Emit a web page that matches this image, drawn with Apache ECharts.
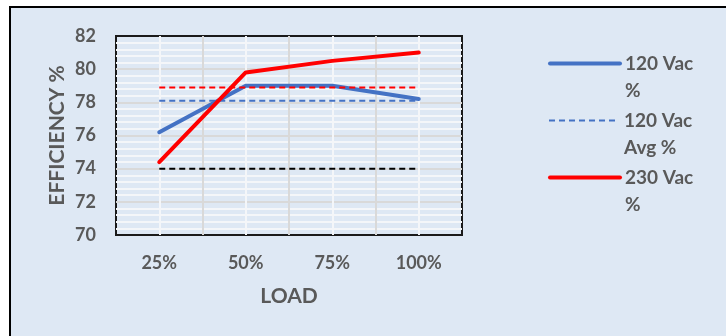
<!DOCTYPE html>
<html>
<head>
<meta charset="utf-8">
<script src="https://cdn.jsdelivr.net/npm/echarts@6/dist/echarts.min.js"></script>
<style>html,body{margin:0;padding:0;background:#fff;}#c{width:726px;height:336px;}</style>
</head>
<body>
<div id="c"></div>
<script>
const categories = ['25%', '50%', '75%', '100%'];
const eff120 = [76.2, 79.0, 79.0, 78.2];
const eff230 = [74.4, 79.8, 80.5, 81.0];
const avg120 = [78.1, 78.1, 78.1, 78.1];
const avg230 = [78.9, 78.9, 78.9, 78.9];
const limitLine = [74.0, 74.0, 74.0, 74.0];
const yMin = 70, yMax = 82, yStep = 2;
const legendNames = { '120 Vac %': ['120 Vac', '%'], '120 Vac Avg %': ['120 Vac', 'Avg %'], '230 Vac %': ['230 Vac', '%'] };

const FONT = 'Lato';
const TXT = '#595959';
const BG = '#dee8f4';

function legendAt(name, top, width) {
  return {
    data: [name], left: 548, top: top, padding: 0, orient: 'vertical',
    itemWidth: 70, itemHeight: 14, selectedMode: false,
    lineStyle: { width: width },
    itemStyle: { opacity: 0 },
    formatter: n => ' \n' + legendNames[n].join('\n'),
    textStyle: { fontFamily: FONT, fontSize: 19, fontWeight: 'bold', color: TXT, lineHeight: 27 }
  };
}

const chart = echarts.init(document.getElementById('c'), null, { renderer: 'canvas' });
chart.setOption({
  animation: false,
  backgroundColor: '#ffffff',
  graphic: [{ type: 'rect', z: -10, silent: true, shape: { x: 10, y: 7, width: 760, height: 380 }, style: { fill: BG, stroke: '#000', lineWidth: 2 } }],
  grid: { left: 116, top: 36, right: 264, bottom: 101, show: true, backgroundColor: BG, borderColor: '#1a1a1a', borderWidth: 2 },
  legend: [legendAt('120 Vac %', 23, 4), legendAt('120 Vac Avg %', 80, 2), legendAt('230 Vac %', 137, 4)],
  xAxis: {
    type: 'category', data: categories, boundaryGap: true, z: 1,
    axisLine: { show: false }, axisTick: { show: false },
    axisLabel: { fontFamily: FONT, fontSize: 18, fontWeight: 'bold', color: TXT, margin: 19 },
    splitLine: { show: true, showMinLine: false, showMaxLine: false, lineStyle: { color: '#d9d9d9', width: 2 } },
    name: 'LOAD', nameLocation: 'middle', nameGap: 51,
    nameTextStyle: { fontFamily: FONT, fontSize: 21, fontWeight: 'bold', color: TXT }
  },
  yAxis: {
    type: 'value', min: yMin, max: yMax, interval: yStep, z: 0,
    axisLine: { show: false }, axisTick: { show: false },
    axisLabel: { fontFamily: FONT, fontSize: 18, fontWeight: 'bold', color: TXT, margin: 20 },
    splitLine: { show: true, showMinLine: false, showMaxLine: false, lineStyle: { color: '#d9d9d9', width: 2 } },
    minorTick: { show: false, splitNumber: 5 },
    minorSplitLine: { show: true, lineStyle: { color: '#f4f6f9', width: 2 } },
    name: 'EFFICIENCY %', nameLocation: 'middle', nameGap: 48,
    nameTextStyle: { fontFamily: FONT, fontSize: 21, fontWeight: 'bold', color: TXT }
  },
  series: [
    {
      name: 'grid-centers', type: 'line', data: [], silent: true, z: 1,
      markLine: {
        z: 1, silent: true, symbol: ['none', 'none'], label: { show: false },
        lineStyle: { color: '#f4f6f9', width: 2, type: 'solid' },
        data: categories.map(c => ({ xAxis: c }))
      }
    },
    { name: '120 Vac %', type: 'line', data: eff120, symbol: 'none', lineStyle: { color: '#4472c4', width: 4, cap: 'round' }, itemStyle: { color: '#4472c4' }, z: 3 },
    { name: '120 Vac Avg %', type: 'line', data: avg120, symbol: 'none', lineStyle: { color: '#4472c4', width: 2, type: [6, 4] }, itemStyle: { color: '#4472c4' }, z: 3 },
    { name: '230 Vac %', type: 'line', data: eff230, symbol: 'none', lineStyle: { color: '#ff0000', width: 4, cap: 'round' }, itemStyle: { color: '#ff0000' }, z: 4 },
    { name: '230 Vac Avg %', type: 'line', data: avg230, symbol: 'none', lineStyle: { color: '#ff0000', width: 2, type: [6, 4] }, itemStyle: { color: '#ff0000' }, z: 4 },
    { name: 'Limit', type: 'line', data: limitLine, symbol: 'none', lineStyle: { color: '#000000', width: 2, type: [6, 4] }, itemStyle: { color: '#000' }, z: 4 }
  ]
});
</script>
</body>
</html>
